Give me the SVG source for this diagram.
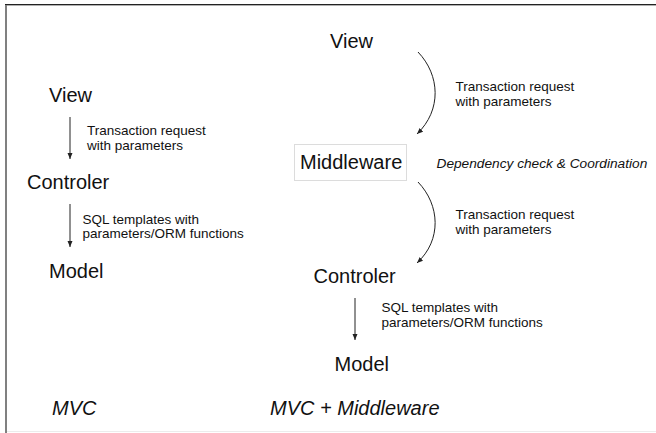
<svg xmlns="http://www.w3.org/2000/svg" width="656" height="433" viewBox="0 0 656 433">
<defs>
<style>
.node{font-family:"Liberation Sans",Arial,sans-serif;font-size:20px;fill:#111}
.lbl{font-family:"Liberation Sans",Arial,sans-serif;font-size:13.5px;fill:#111}
.it{font-style:italic}
.conn{fill:none;stroke:#222;stroke-width:1}
</style>
<marker id="ah" markerWidth="7" markerHeight="6" refX="6" refY="3" orient="auto" markerUnits="userSpaceOnUse">
<path d="M0,0.5 L6,3 L0,5.5 Z" fill="#222"/>
</marker>
</defs>
<rect x="0" y="0" width="656" height="433" fill="#fff"/>
<g id="frame">
<line x1="5" y1="4.5" x2="656" y2="4.5" stroke="#222" stroke-width="1"/>
<line x1="7" y1="5.5" x2="656" y2="5.5" stroke="#b0b0b0" stroke-width="1"/>
<line x1="6" y1="5" x2="6" y2="433" stroke="#808080" stroke-width="2"/>
<line x1="7" y1="431.5" x2="656" y2="431.5" stroke="#ececec" stroke-width="1"/>
</g>
<g id="connectors">
<line class="conn" x1="70" y1="117" x2="70" y2="159" marker-end="url(#ah)"/>
<line class="conn" x1="70" y1="204" x2="70" y2="247" marker-end="url(#ah)"/>
<path class="conn" d="M418,52 C440,75 442,110 417,134" marker-end="url(#ah)"/>
<path class="conn" d="M418,182 C440,205 442,240 417,263" marker-end="url(#ah)"/>
<line class="conn" x1="355" y1="298" x2="355" y2="340" marker-end="url(#ah)"/>
</g>
<g id="left-view"><text class="node" x="49" y="102">View</text></g>
<g id="left-label1"><text class="lbl" x="87" y="135">Transaction request</text><text class="lbl" x="87" y="149.5">with parameters</text></g>
<g id="left-controler"><text class="node" x="27" y="189">Controler</text></g>
<g id="left-label2"><text class="lbl" x="82.5" y="223.5">SQL templates with</text><text class="lbl" x="82.5" y="238">parameters/ORM functions</text></g>
<g id="left-model"><text class="node" x="49" y="278">Model</text></g>
<g id="right-view"><text class="node" x="330" y="48">View</text></g>
<g id="right-label1"><text class="lbl" x="455.5" y="91">Transaction request</text><text class="lbl" x="455.5" y="105.5">with parameters</text></g>
<g id="middleware"><rect x="294.5" y="144.5" width="112" height="36" fill="#fff" stroke="#dcdcdc" stroke-width="1"/><text class="node" x="300" y="168.5">Middleware</text></g>
<g id="middleware-note"><text class="lbl it" x="436.5" y="167.5" style="font-size:13.7px">Dependency check &amp; Coordination</text></g>
<g id="right-label2"><text class="lbl" x="455.5" y="219">Transaction request</text><text class="lbl" x="455.5" y="233.5">with parameters</text></g>
<g id="right-controler"><text class="node" x="313.5" y="282.5">Controler</text></g>
<g id="right-label3"><text class="lbl" x="381.5" y="312">SQL templates with</text><text class="lbl" x="381.5" y="326.5">parameters/ORM functions</text></g>
<g id="right-model"><text class="node" x="334.5" y="370.5">Model</text></g>
<g id="caption-mvc"><text class="node it" x="52" y="415">MVC</text></g>
<g id="caption-mvc-mw"><text class="node it" x="270" y="415">MVC + Middleware</text></g>
</svg>
